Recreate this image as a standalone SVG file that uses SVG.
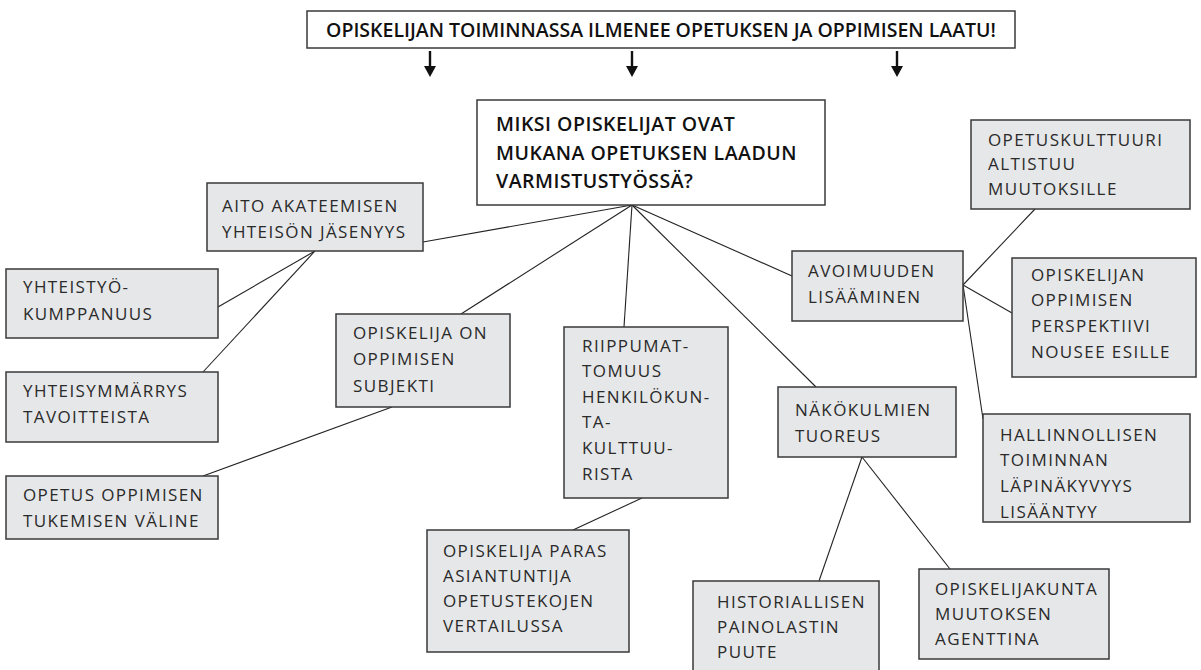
<svg xmlns="http://www.w3.org/2000/svg" width="1201" height="670" viewBox="0 0 1201 670">
<style>
.box{fill:#e6e7e8;stroke:#3a3a3a;stroke-width:1.5}
.wbox{fill:#ffffff;stroke:#3a3a3a;stroke-width:1.5}
.t{font-family:"Open Sans","Liberation Sans",sans-serif;font-size:17px;letter-spacing:1.4px;fill:#2a2a2a}
.b{font-family:"Open Sans","Liberation Sans",sans-serif;font-size:19.5px;font-weight:600;fill:#111}
.cb{letter-spacing:0.5px}
.c line{stroke:#222;stroke-width:1.1}
.c .arr{stroke:#111;stroke-width:2.4}
.ah{fill:#111}
</style>
<g id="connectors" class="c">
<line class="arr" x1="430" y1="51" x2="430" y2="70"/>
<path class="ah" d="M424,66 L436,66 L430,77 Z"/>
<line class="arr" x1="632" y1="51" x2="632" y2="70"/>
<path class="ah" d="M626,66 L638,66 L632,77 Z"/>
<line class="arr" x1="897" y1="51" x2="897" y2="70"/>
<path class="ah" d="M891,66 L903,66 L897,77 Z"/>
<line x1="632" y1="205" x2="423" y2="242"/>
<line x1="632" y1="205" x2="461" y2="314"/>
<line x1="632" y1="205" x2="624" y2="327"/>
<line x1="632" y1="205" x2="816" y2="387"/>
<line x1="632" y1="205" x2="792" y2="276"/>
<line x1="315" y1="251" x2="218" y2="307"/>
<line x1="315" y1="251" x2="203" y2="372"/>
<line x1="392" y1="407" x2="203" y2="476"/>
<line x1="642" y1="498" x2="573" y2="530"/>
<line x1="862" y1="457" x2="819" y2="581"/>
<line x1="862" y1="457" x2="950" y2="569"/>
<line x1="963" y1="285" x2="1035" y2="209"/>
<line x1="963" y1="285" x2="1012" y2="313"/>
<line x1="963" y1="285" x2="983" y2="419"/>
</g>
<g id="banner">
<rect class="wbox" x="307" y="11" width="708" height="37"/>
<text class="b" x="661" y="37" text-anchor="middle">OPISKELIJAN TOIMINNASSA ILMENEE OPETUKSEN JA OPPIMISEN LAATU!</text>
</g>
<g id="center">
<rect class="wbox" x="477" y="100" width="348" height="105"/>
<text class="b cb" x="496" y="131">MIKSI OPISKELIJAT OVAT</text>
<text class="b cb" x="496" y="160">MUKANA OPETUKSEN LAADUN</text>
<text class="b cb" x="496" y="188">VARMISTUSTYÖSSÄ?</text>
</g>
<g id="aito">
<rect class="box" x="207" y="183" width="216" height="68"/>
<text class="t" x="222" y="212">AITO AKATEEMISEN</text>
<text class="t" x="222" y="238">YHTEISÖN JÄSENYYS</text>
</g>
<g id="yhteistyo">
<rect class="box" x="6" y="269" width="212" height="69"/>
<text class="t" x="23" y="293">YHTEISTYÖ-</text>
<text class="t" x="23" y="320">KUMPPANUUS</text>
</g>
<g id="yhteisymmarrys">
<rect class="box" x="6" y="372" width="212" height="70"/>
<text class="t" x="23" y="397">YHTEISYMMÄRRYS</text>
<text class="t" x="23" y="423">TAVOITTEISTA</text>
</g>
<g id="opetus">
<rect class="box" x="6" y="476" width="212" height="63"/>
<text class="t" x="23" y="501">OPETUS OPPIMISEN</text>
<text class="t" x="23" y="527">TUKEMISEN VÄLINE</text>
</g>
<g id="subjekti">
<rect class="box" x="336" y="314" width="174" height="93"/>
<text class="t" x="353" y="339">OPISKELIJA ON</text>
<text class="t" x="353" y="365">OPPIMISEN</text>
<text class="t" x="353" y="392">SUBJEKTI</text>
</g>
<g id="riippumattomuus">
<rect class="box" x="564" y="327" width="164" height="171"/>
<text class="t" x="582" y="352">RIIPPUMAT-</text>
<text class="t" x="582" y="377">TOMUUS</text>
<text class="t" x="582" y="403">HENKILÖKUN-</text>
<text class="t" x="582" y="428">TA-</text>
<text class="t" x="582" y="454">KULTTUU-</text>
<text class="t" x="582" y="480">RISTA</text>
</g>
<g id="asiantuntija">
<rect class="box" x="427" y="530" width="202" height="122"/>
<text class="t" x="443" y="557">OPISKELIJA PARAS</text>
<text class="t" x="443" y="582">ASIANTUNTIJA</text>
<text class="t" x="443" y="607">OPETUSTEKOJEN</text>
<text class="t" x="443" y="632">VERTAILUSSA</text>
</g>
<g id="nakokulmien">
<rect class="box" x="778" y="387" width="178" height="70"/>
<text class="t" x="795" y="416">NÄKÖKULMIEN</text>
<text class="t" x="795" y="442">TUOREUS</text>
</g>
<g id="historiallisen">
<rect class="box" x="693" y="581" width="186" height="100"/>
<text class="t" x="717" y="608">HISTORIALLISEN</text>
<text class="t" x="717" y="633">PAINOLASTIN</text>
<text class="t" x="717" y="658">PUUTE</text>
</g>
<g id="opiskelijakunta">
<rect class="box" x="919" y="569" width="190" height="90"/>
<text class="t" x="935" y="595">OPISKELIJAKUNTA</text>
<text class="t" x="935" y="620">MUUTOKSEN</text>
<text class="t" x="935" y="645">AGENTTINA</text>
</g>
<g id="avoimuuden">
<rect class="box" x="792" y="251" width="171" height="70"/>
<text class="t" x="808" y="277">AVOIMUUDEN</text>
<text class="t" x="808" y="303">LISÄÄMINEN</text>
</g>
<g id="opetuskulttuuri">
<rect class="box" x="971" y="120" width="219" height="89"/>
<text class="t" x="988" y="146">OPETUSKULTTUURI</text>
<text class="t" x="988" y="170">ALTISTUU</text>
<text class="t" x="988" y="195">MUUTOKSILLE</text>
</g>
<g id="perspektiivi">
<rect class="box" x="1012" y="258" width="184" height="119"/>
<text class="t" x="1031" y="281">OPISKELIJAN</text>
<text class="t" x="1031" y="306">OPPIMISEN</text>
<text class="t" x="1031" y="332">PERSPEKTIIVI</text>
<text class="t" x="1031" y="358">NOUSEE ESILLE</text>
</g>
<g id="hallinnollisen">
<rect class="box" x="983" y="414" width="207" height="108"/>
<text class="t" x="1000" y="441">HALLINNOLLISEN</text>
<text class="t" x="1000" y="466">TOIMINNAN</text>
<text class="t" x="1000" y="492">LÄPINÄKYVYYS</text>
<text class="t" x="1000" y="518">LISÄÄNTYY</text>
</g>
</svg>
